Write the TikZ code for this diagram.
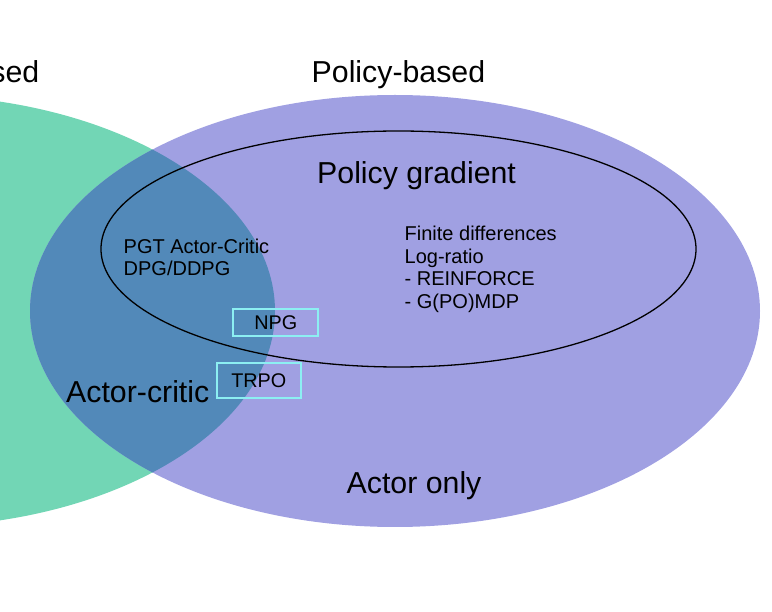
\documentclass[tikz,border=0pt]{standalone}
\usepackage{fontspec}
\setmainfont{Liberation Sans}
\definecolor{valgreen}{HTML}{72D6B5}
\definecolor{polpurple}{HTML}{A0A0E2}
\definecolor{overlapblue}{HTML}{5289B9}
\definecolor{boxcyan}{HTML}{8CEFF2}
\begin{document}
\begin{tikzpicture}[x=1pt,y=-1pt,
  bigtxt/.style={inner sep=0pt,anchor=base west,font=\fontsize{30.3}{36}\selectfont},
  smalltxt/.style={inner sep=0pt,anchor=base west,font=\fontsize{20}{22.5}\selectfont},
  algbox/.style={draw=boxcyan,line width=2pt,inner sep=0pt,font=\fontsize{19.8}{22.5}\selectfont}]
\useasboundingbox (0,0) rectangle (772,612);
\clip (0,0) rectangle (772,612);
% sets
\fill[valgreen] (-90,311) ellipse [x radius=365pt, y radius=216pt];
\fill[polpurple] (395,311) ellipse [x radius=365pt, y radius=216pt];
\begin{scope}
  \clip (-90,311) ellipse [x radius=365pt, y radius=216pt];
  \fill[overlapblue] (395,311) ellipse [x radius=365pt, y radius=216pt];
\end{scope}
% policy gradient subset
\draw[black,line width=1.3pt] (398.5,249) ellipse [x radius=297.5pt, y radius=118pt];
% titles
\node[bigtxt,anchor=base east] (valuebased) at (39.5,82.5) {sed};
\node[bigtxt] (policybased) at (311.5,83) {Policy-based};
\node[bigtxt] (policygradient) at (317,184) {Policy gradient};
\node[bigtxt] (actorcritic) at (66,403) {Actor-critic};
\node[bigtxt] (actoronly) at (346.5,494) {Actor only};
% methods
\node[smalltxt] (pgtac) at (123.5,254) {PGT Actor-Critic};
\node[smalltxt] (dpg) at (123.5,276) {DPG/DDPG};
\node[smalltxt] (finite) at (404.5,241) {Finite differences};
\node[smalltxt] (logratio) at (404.5,263.5) {Log-ratio};
\node[smalltxt] (reinforce) at (404.5,286) {- REINFORCE};
\node[smalltxt] (gpomdp) at (404.5,308.5) {- G(PO)MDP};
\node[algbox,minimum width=85pt,minimum height=26.7pt] (npg) at (275.8,322.4) {NPG};
\node[algbox,minimum width=84.3pt,minimum height=35pt] (trpo) at (258.85,380.2) {\raisebox{-2pt}{TRPO}};
\end{tikzpicture}
\end{document}
